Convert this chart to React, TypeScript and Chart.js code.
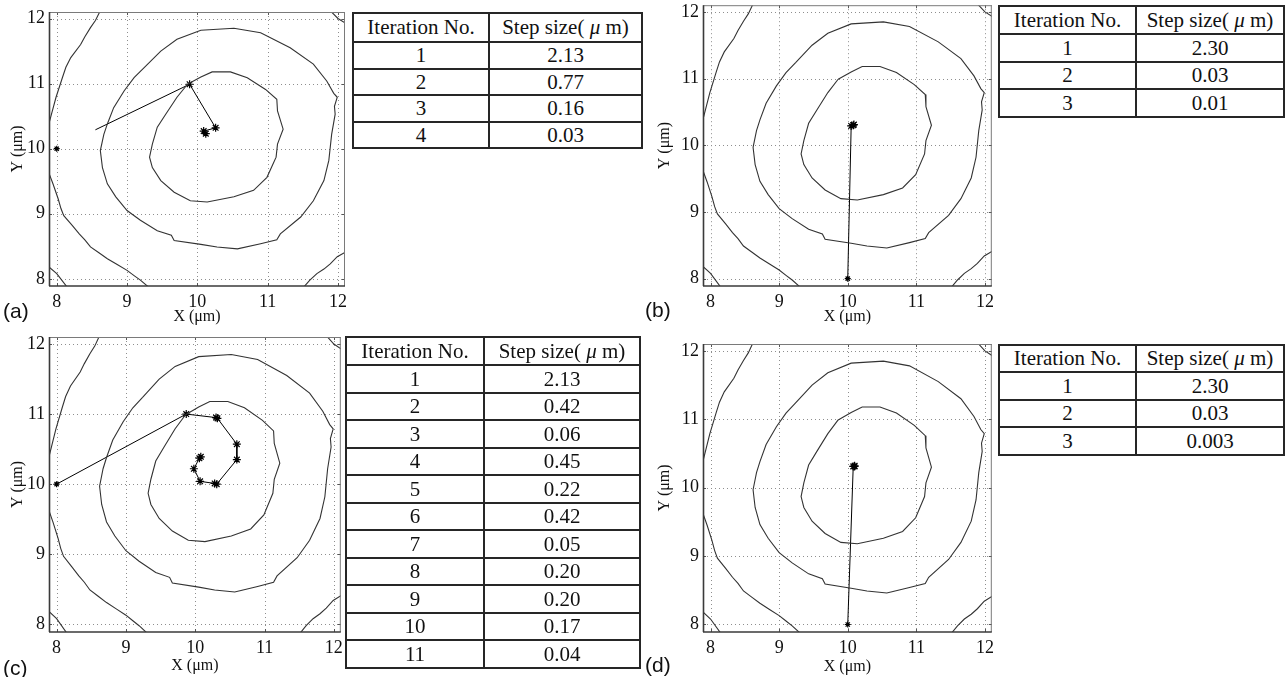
import React, { useEffect, useRef } from "react";
import { Chart, registerables } from "chart.js";

Chart.register(...registerables);

const SERIF = '"Liberation Serif", "Times New Roman", serif';
const SANS = '"Liberation Sans", Arial, sans-serif';

// ---------- axis ----------
const axisTicks = [8, 9, 10, 11, 12];
const axisMin = 7.89;
const axisMax = 12.1;

// ---------- contour lines (same field in all four panels) ----------
const contourInnerX = [9.86, 10.05, 10.21, 10.47, 10.71, 10.97, 11.13, 11.14, 11.22, 11.14, 11.12, 10.99, 10.8, 10.52, 10.14, 9.9, 9.67, 9.48, 9.36, 9.32, 9.36, 9.43, 9.55, 9.71, 9.86];
const contourInnerY = [10.99, 11.1, 11.18, 11.18, 11.09, 10.91, 10.76, 10.58, 10.3, 10.07, 9.87, 9.56, 9.36, 9.26, 9.18, 9.2, 9.33, 9.51, 9.71, 9.87, 10.07, 10.33, 10.53, 10.79, 10.99];

const contourMiddleX = [9.24, 9.48, 9.71, 10.05, 10.52, 10.9, 11.32, 11.65, 11.84, 11.94, 11.99, 11.95, 11.96, 11.91, 11.87, 11.8, 11.65, 11.47, 11.18, 11.13, 10.9, 10.57, 10.28, 10.05, 9.67, 9.63, 9.43, 9.19, 9.0, 8.84, 8.72, 8.65, 8.62, 8.67, 8.72, 8.81, 8.96, 9.1, 9.24];
const contourMiddleY = [11.24, 11.5, 11.68, 11.82, 11.85, 11.78, 11.55, 11.3, 11.04, 10.85, 10.79, 10.65, 10.53, 10.22, 9.82, 9.51, 9.2, 8.95, 8.69, 8.6, 8.54, 8.46, 8.49, 8.53, 8.59, 8.67, 8.74, 8.9, 9.05, 9.26, 9.46, 9.71, 9.97, 10.22, 10.38, 10.63, 10.89, 11.09, 11.24];

const contourOuterX = [8.62, 8.55, 8.48, 8.4, 8.34, 8.2, 8.13, 8.08, 7.99, 7.93, 7.88, 7.86, 7.88, 7.95, 8.02, 8.06, 8.1, 8.22, 8.32, 8.4, 8.48, 8.6, 8.72, 8.86, 9.0, 9.1, 9.19, 9.31];
const contourOuterY = [12.12, 11.97, 11.86, 11.72, 11.6, 11.4, 11.25, 11.09, 10.79, 10.55, 10.35, 10.0, 9.65, 9.45, 9.23, 9.08, 8.97, 8.82, 8.69, 8.6, 8.49, 8.4, 8.31, 8.22, 8.13, 8.05, 7.98, 7.87];

const contourCornerBLX = [7.87, 8.0, 8.15];
const contourCornerBLY = [8.2, 8.08, 7.87];

const contourCornerTRX = [11.89, 12.0, 12.12];
const contourCornerTRY = [12.12, 12.0, 11.92];

const contourCornerBRX = [11.51, 11.6, 11.7, 11.8, 11.89, 11.99, 12.12];
const contourCornerBRY = [7.87, 7.98, 8.08, 8.15, 8.23, 8.34, 8.42];

// ---------- search tracks ----------
// (a): start marker, then the visible part of the first step
const trackAX = [8.0, 8.55, 9.89, 10.26, 10.09, 10.12];
const trackAY = [10.0, 10.29, 10.99, 10.32, 10.27, 10.23];
const trackARadius = [3, 0, 4, 4, 4, 4];

const trackBX = [10.0, 10.05, 10.08, 10.09];
const trackBY = [8.0, 10.29, 10.3, 10.31];
const trackBRadius = [3, 4, 4, 4];

const trackCX = [8.0, 9.87, 10.3, 10.32, 10.6, 10.6, 10.31, 10.28, 10.07, 9.98, 10.06, 10.08];
const trackCY = [10.0, 11.0, 10.95, 10.94, 10.57, 10.35, 10.0, 10.01, 10.04, 10.22, 10.37, 10.39];
const trackCRadius = [3, 4, 4, 4, 4, 4, 4, 4, 4, 4, 4, 4];

const trackDX = [10.0, 10.08, 10.1, 10.1];
const trackDY = [8.0, 10.31, 10.31, 10.32];
const trackDRadius = [3, 4, 4, 4];

// ---------- tables ----------
const tableHeaderIter = "Iteration No.";
const tableAIter = ["1", "2", "3", "4"];
const tableASteps = ["2.13", "0.77", "0.16", "0.03"];
const tableBIter = ["1", "2", "3"];
const tableBSteps = ["2.30", "0.03", "0.01"];
const tableCIter = ["1", "2", "3", "4", "5", "6", "7", "8", "9", "10", "11"];
const tableCSteps = ["2.13", "0.42", "0.06", "0.45", "0.22", "0.42", "0.05", "0.20", "0.20", "0.17", "0.04"];
const tableDIter = ["1", "2", "3"];
const tableDSteps = ["2.30", "0.03", "0.003"];

const framePlugin = {
  id: "frame",
  beforeDatasetsDraw(chart: any) {
    const { ctx, chartArea, scales } = chart;
    const { left, right, top, bottom } = chartArea;
    ctx.save();
    ctx.strokeStyle = "#8e8e8e";
    ctx.lineWidth = 1;
    ctx.setLineDash([1, 3]);
    axisTicks.forEach((v) => {
      const px = Math.round(scales.x.getPixelForValue(v)) + 0.5;
      ctx.beginPath();
      ctx.moveTo(px, top);
      ctx.lineTo(px, bottom);
      ctx.stroke();
      const py = Math.round(scales.y.getPixelForValue(v)) + 0.5;
      ctx.beginPath();
      ctx.moveTo(left, py);
      ctx.lineTo(right, py);
      ctx.stroke();
    });
    ctx.restore();
  },
  afterDatasetsDraw(chart: any) {
    const { ctx, chartArea, scales } = chart;
    const { left, right, top, bottom } = chartArea;
    const line = (x1: number, y1: number, x2: number, y2: number) => {
      ctx.beginPath();
      ctx.moveTo(x1, y1);
      ctx.lineTo(x2, y2);
      ctx.stroke();
    };
    ctx.save();
    ctx.setLineDash([]);
    ctx.strokeStyle = "#555";
    ctx.lineWidth = 1;
    const tl = 3;
    axisTicks.forEach((v) => {
      const px = Math.round(scales.x.getPixelForValue(v)) + 0.5;
      line(px, bottom, px, bottom - tl);
      line(px, top, px, top + tl);
      const py = Math.round(scales.y.getPixelForValue(v)) + 0.5;
      line(left, py, left + tl, py);
      line(right, py, right - tl, py);
    });
    ctx.strokeStyle = "#7a7a7a";
    ctx.lineWidth = 1;
    line(left, top + 0.5, right, top + 0.5);
    line(right - 0.5, top, right - 0.5, bottom);
    ctx.strokeStyle = "#3a3a3a";
    ctx.lineWidth = 1.6;
    line(left + 0.5, top, left + 0.5, bottom);
    line(left, bottom, right, bottom);
    ctx.restore();
  },
};

type Area = { l: number; t: number; r: number; b: number };

function ContourPanel(props: {
  left: number;
  top: number;
  width: number;
  height: number;
  area: Area;
  yTitlePad: number;
  xTitlePad: number;
  trackX: number[];
  trackY: number[];
  radii: number[];
  hideFirstSegment?: boolean;
}) {
  const ref = useRef<HTMLCanvasElement>(null);
  useEffect(() => {
    const { width, height, area, yTitlePad, xTitlePad, trackX, trackY, radii, hideFirstSegment } = props;
    const contours: [number[], number[]][] = [
      [contourInnerX, contourInnerY],
      [contourMiddleX, contourMiddleY],
      [contourOuterX, contourOuterY],
      [contourCornerBLX, contourCornerBLY],
      [contourCornerTRX, contourCornerTRY],
      [contourCornerBRX, contourCornerBRY],
    ];
    const datasets: any[] = contours.map(([xs, ys]) => ({
      data: xs.map((x, i) => ({ x, y: ys[i] })),
      showLine: true,
      pointRadius: 0,
      pointHoverRadius: 0,
      borderColor: "#333",
      borderWidth: 1.1,
      tension: 0,
      fill: false,
    }));
    const track: any = {
      data: trackX.map((x, i) => ({ x, y: trackY[i] })),
      showLine: true,
      borderColor: "#000",
      borderWidth: 1,
      tension: 0,
      pointStyle: "star",
      pointRadius: radii,
      pointHoverRadius: radii,
      pointBorderColor: "#000",
      pointBackgroundColor: "#000",
      pointBorderWidth: 1.2,
      fill: false,
    };
    if (hideFirstSegment) {
      track.segment = {
        borderColor: (c: any) => (c.p0DataIndex === 0 ? "rgba(0,0,0,0)" : "#000"),
      };
    }
    datasets.push(track);

    const tickFont = { family: SERIF, size: 18 };
    const titleFont = { family: SERIF, size: 16 };
    const zeroPad = (s: any) => {
      s.paddingTop = 0;
      s.paddingBottom = 0;
      s.paddingLeft = 0;
      s.paddingRight = 0;
    };
    const chart = new Chart(ref.current as HTMLCanvasElement, {
      type: "scatter",
      data: { datasets },
      options: {
        responsive: false,
        animation: false,
        devicePixelRatio: 1,
        events: [],
        layout: { padding: { left: 0, top: area.t, right: width - area.r, bottom: 0 } },
        plugins: { legend: { display: false }, tooltip: { enabled: false } },
        scales: {
          x: {
            type: "linear",
            min: axisMin,
            max: axisMax,
            grid: { display: false, drawTicks: false },
            border: { display: false },
            ticks: { font: tickFont, color: "#111", padding: 5, maxRotation: 0, autoSkip: false },
            title: {
              display: true,
              text: "X (μm)",
              font: titleFont,
              color: "#111",
              padding: { top: 0, bottom: xTitlePad },
            },
            afterBuildTicks: (s: any) => {
              s.ticks = axisTicks.map((v) => ({ value: v }));
            },
            afterFit: (s: any) => {
              s.height = height - area.b;
              zeroPad(s);
            },
          },
          y: {
            type: "linear",
            min: axisMin,
            max: axisMax,
            grid: { display: false, drawTicks: false },
            border: { display: false },
            ticks: { font: tickFont, color: "#111", padding: 4, autoSkip: false },
            title: {
              display: true,
              text: "Y (μm)",
              font: titleFont,
              color: "#111",
              padding: { top: yTitlePad, bottom: 0 },
            },
            afterBuildTicks: (s: any) => {
              s.ticks = axisTicks.map((v) => ({ value: v }));
            },
            afterFit: (s: any) => {
              s.width = area.l;
              zeroPad(s);
            },
          },
        },
      } as any,
      plugins: [framePlugin],
    });
    return () => chart.destroy();
  }, []);
  return (
    <canvas
      ref={ref}
      width={props.width}
      height={props.height}
      style={{ position: "absolute", left: props.left, top: props.top, width: props.width, height: props.height }}
    />
  );
}

function StepTable(props: { cols: number[]; top: number; headerH: number; rowH: number; iters: string[]; steps: string[] }) {
  const { cols, top, headerH, rowH, iters, steps } = props;
  const rowsY = [top, top + headerH];
  iters.forEach((_, i) => rowsY.push(Math.round(top + headerH + rowH * (i + 1))));
  const cells: any[] = [];
  const bw = 2;
  const cell = (key: string, c: number, r: number, content: any) => {
    const x0 = cols[c] - 1;
    const x1 = cols[c + 1] + 1;
    const y0 = rowsY[r] - 1;
    const y1 = rowsY[r + 1] + 1;
    cells.push(
      <div
        key={key}
        style={{
          position: "absolute",
          left: x0,
          top: y0,
          width: x1 - x0,
          height: y1 - y0,
          boxSizing: "border-box",
          border: `${bw}px solid #262626`,
          display: "flex",
          alignItems: "center",
          justifyContent: "center",
          fontFamily: SERIF,
          fontSize: 21,
          lineHeight: 1,
          color: "#111",
          whiteSpace: "nowrap",
        }}
      >
        {content}
      </div>
    );
  };
  cell("h0", 0, 0, tableHeaderIter);
  cell(
    "h1",
    1,
    0,
    <span>
      Step size( <i>μ</i> m)
    </span>
  );
  iters.forEach((it, i) => {
    cell(`i${i}`, 0, i + 1, it);
    cell(`s${i}`, 1, i + 1, steps[i]);
  });
  return <>{cells}</>;
}

function PanelLabel(props: { text: string; left: number; top: number }) {
  return (
    <div
      style={{
        position: "absolute",
        left: props.left,
        top: props.top,
        fontFamily: SANS,
        fontSize: 21,
        lineHeight: 1,
        color: "#111",
      }}
    >
      {props.text}
    </div>
  );
}

export default function App() {
  return (
    <div style={{ position: "absolute", left: 0, top: 0, width: 1286, height: 677, background: "#fff", overflow: "hidden" }}>
      <ContourPanel
        left={0}
        top={0}
        width={352}
        height={330}
        area={{ l: 49, t: 12, r: 345, b: 286 }}
        yTitlePad={8}
        xTitlePad={4}
        trackX={trackAX}
        trackY={trackAY}
        radii={trackARadius}
        hideFirstSegment
      />
      <ContourPanel
        left={645}
        top={0}
        width={352}
        height={330}
        area={{ l: 58, t: 5, r: 348, b: 286 }}
        yTitlePad={10}
        xTitlePad={4}
        trackX={trackBX}
        trackY={trackBY}
        radii={trackBRadius}
      />
      <ContourPanel
        left={0}
        top={330}
        width={346}
        height={347}
        area={{ l: 49, t: 7, r: 341, b: 302 }}
        yTitlePad={8}
        xTitlePad={2}
        trackX={trackCX}
        trackY={trackCY}
        radii={trackCRadius}
      />
      <ContourPanel
        left={645}
        top={330}
        width={352}
        height={347}
        area={{ l: 58, t: 14, r: 348, b: 302 }}
        yTitlePad={10}
        xTitlePad={1}
        trackX={trackDX}
        trackY={trackDY}
        radii={trackDRadius}
      />
      <StepTable cols={[353, 489, 642]} top={13} headerH={29} rowH={26.5} iters={tableAIter} steps={tableASteps} />
      <StepTable cols={[999, 1136, 1284]} top={6} headerH={28} rowH={27.7} iters={tableBIter} steps={tableBSteps} />
      <StepTable cols={[346, 484, 640]} top={337} headerH={28} rowH={27.5} iters={tableCIter} steps={tableCSteps} />
      <StepTable cols={[999, 1136, 1284]} top={345} headerH={27} rowH={27.7} iters={tableDIter} steps={tableDSteps} />
      <PanelLabel text="(a)" left={3} top={300} />
      <PanelLabel text="(b)" left={645} top={299} />
      <PanelLabel text="(c)" left={3} top={657} />
      <PanelLabel text="(d)" left={645} top={654} />
    </div>
  );
}
